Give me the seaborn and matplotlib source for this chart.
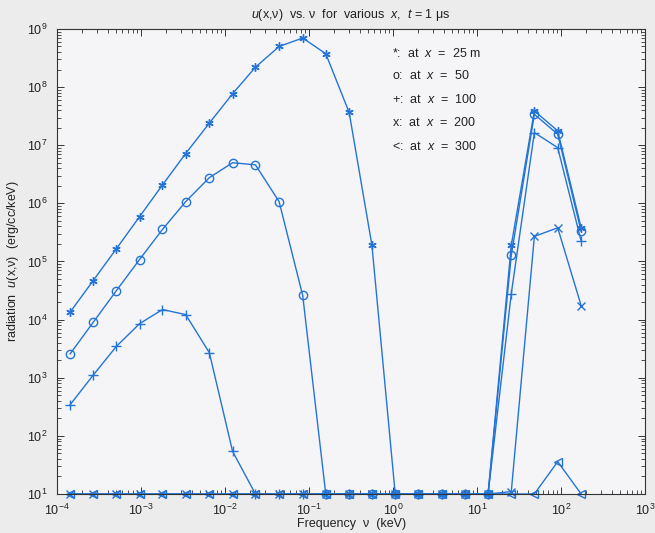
import matplotlib
matplotlib.use("Agg")
import matplotlib.pyplot as plt
import matplotlib.ticker as mticker
import seaborn as sns
import pandas as pd

# Frequency grid (keV)
freq = [1.43e-4, 2.7e-4, 5.1e-4, 9.6e-4, 1.8e-3, 3.4e-3, 6.5e-3, 1.23e-2,
        2.3e-2, 4.4e-2, 8.4e-2, 0.158, 0.30, 0.56, 1.06, 2.0, 3.8, 7.1,
        13.5, 25.5, 48, 91, 173]

# Radiation energy density u(x, nu) (erg/cc/keV) at each distance x
u_x25 = [1.34e4, 4.7e4, 1.66e5, 5.9e5, 2.07e6, 7.2e6, 2.4e7, 7.7e7,
         2.2e8, 5.0e8, 7.0e8, 3.76e8, 3.66e7, 1.9e5, 10, 10, 10, 10,
         10, 1.9e5, 3.9e7, 1.77e7, 3.8e5]
u_x50 = [2.56e3, 9.0e3, 3.16e4, 1.08e5, 3.56e5, 1.07e6, 2.77e6, 5.0e6,
         4.6e6, 1.07e6, 2.6e4, 10, 10, 10, 10, 10, 10, 10,
         10, 1.28e5, 3.4e7, 1.55e7, 3.3e5]
u_x100 = [342, 1.11e3, 3.47e3, 8.5e3, 1.49e4, 1.22e4, 2.7e3, 54,
          10, 10, 10, 10, 10, 10, 10, 10, 10, 10,
          10, 2.8e4, 1.65e7, 9.1e6, 2.24e5]
u_x200 = [10, 10, 10, 10, 10, 10, 10, 10,
          10, 10, 10, 10, 10, 10, 10, 10, 10, 10,
          10, 11, 2.7e5, 3.8e5, 1.74e4]
u_x300 = [10, 10, 10, 10, 10, 10, 10, 10,
          10, 10, 10, 10, 10, 10, 10, 10, 10, 10,
          10, 10, 10, 36, 10]

labels = [r"*:  at  $\mathit{x}$  =  25 m", r"o:  at  $\mathit{x}$  =  50",
          r"+:  at  $\mathit{x}$  =  100", r"x:  at  $\mathit{x}$  =  200",
          r"<:  at  $\mathit{x}$  =  300"]

series = [u_x25, u_x50, u_x100, u_x200, u_x300]
markers = [(6, 2, 0), "o", "+", "x", "<"]
msizes = [6, 6, 7, 5.5, 6]

sns.set_style("ticks")
plt.rcParams["font.family"] = ["Liberation Sans", "DejaVu Sans"]
plt.rcParams["mathtext.fontset"] = "custom"
plt.rcParams["mathtext.rm"] = "Liberation Sans"
plt.rcParams["mathtext.it"] = "Liberation Sans:italic"
plt.rcParams["mathtext.default"] = "regular"

line_color = "#2374d6"

fig = plt.figure(figsize=(6.55, 5.33), dpi=100, facecolor="#ececec")
ax = fig.add_axes([0.087, 0.0732, 0.898, 0.8724])
ax.set_facecolor("#f5f5f7")

for vals, mk, ms in zip(series, markers, msizes):
    df = pd.DataFrame({"freq": freq, "u": vals})
    sns.lineplot(data=df, x="freq", y="u", ax=ax, color=line_color,
                 marker=mk, markersize=ms, markerfacecolor="none",
                 markeredgecolor=line_color, markeredgewidth=1.0,
                 linewidth=1.0, clip_on=False)

ax.set_xscale("log")
ax.set_yscale("log")
ax.set_xlim(1e-4, 1e3)
ax.set_ylim(10, 1e9)

ax.xaxis.set_major_locator(mticker.LogLocator(base=10, numticks=20))
ax.yaxis.set_major_locator(mticker.LogLocator(base=10, numticks=20))
ax.xaxis.set_minor_locator(mticker.LogLocator(base=10, subs=range(2, 10), numticks=20))
ax.yaxis.set_minor_locator(mticker.LogLocator(base=10, subs=range(2, 10), numticks=20))
ax.xaxis.set_minor_formatter(mticker.NullFormatter())
ax.yaxis.set_minor_formatter(mticker.NullFormatter())

ax.tick_params(which="both", direction="in", top=True, right=True,
               color="#333333", labelsize=9, labelcolor="#222222")
ax.tick_params(which="major", length=5, width=0.7)
ax.tick_params(which="minor", length=3, width=0.6)
ax.tick_params(axis="x", which="major", pad=6)
ax.tick_params(axis="y", which="major", pad=7)
for sp in ax.spines.values():
    sp.set_color("#333333")
    sp.set_linewidth(0.8)

ax.set_xlabel("Frequency  ν  (keV)", fontsize=9, color="#222222", labelpad=0)
ax.set_ylabel(r"radiation  $\mathit{u}$(x,ν)  (erg/cc/keV)", fontsize=9,
              color="#222222", labelpad=4)
ax.set_title(r"$\mathit{u}$(x,ν)  vs. ν  for  various  $\mathit{x}$,  $\mathit{t}$ = 1 μs",
             fontsize=9, color="#222222", pad=8)

ys = [0.948, 0.899, 0.849, 0.798, 0.748]
for lab, yy in zip(labels, ys):
    ax.text(0.570, yy, lab, transform=ax.transAxes, fontsize=9,
            color="#222222", va="center", ha="left")

fig.savefig("out.png", dpi=100, facecolor=fig.get_facecolor())
